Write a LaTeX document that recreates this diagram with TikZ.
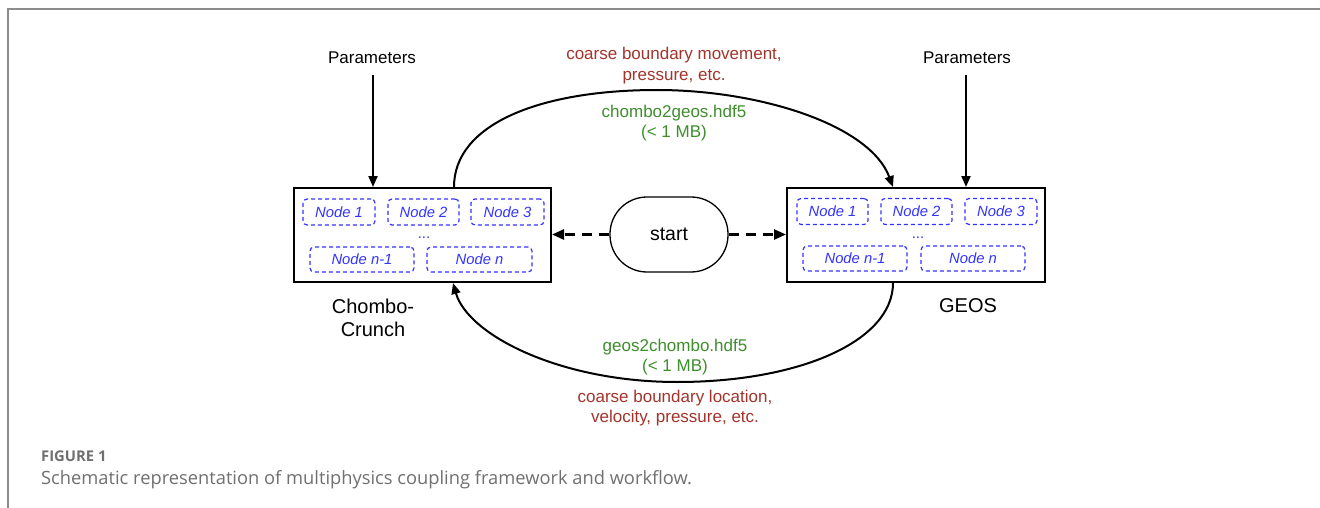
\documentclass[tikz,border=0pt]{standalone}
\usepackage{fontspec}
\setmainfont{Liberation Sans}
\newfontfamily\capfont{Open Sans}
\usetikzlibrary{arrows.meta,calc}
\definecolor{framegray}{HTML}{8C8C8C}
\definecolor{lblred}{HTML}{A3342C}
\definecolor{lblgreen}{HTML}{3E8E2C}
\definecolor{nodeblue}{HTML}{3333FF}
\definecolor{capgray}{HTML}{707070}
\tikzset{
  bigbox/.style={draw=black, line width=2pt, minimum width=257pt, minimum height=94pt, inner sep=0pt},
  cnode/.style={draw=nodeblue, dashed, dash pattern=on 4pt off 3pt, line width=1.2pt, rounded corners=4pt,
     text=nodeblue, font=\fontsize{14.8}{16}\selectfont\itshape, minimum height=26pt, inner sep=0pt},
  lbl/.style={font=\fontsize{17}{21}\selectfont, align=center, inner sep=0pt},
  flow/.style={line width=2pt, -{Triangle[length=11pt,width=9pt]}},
  dflow/.style={line width=2.5pt, dash pattern=on 10pt off 7pt, -{Triangle[length=12pt,width=10pt]}},
}
\begin{document}
\begin{tikzpicture}[x=1pt,y=-1pt]
\useasboundingbox (0,0) rectangle (1320,508);
\fill[white] (0,0) rectangle (1320,508);
% frame
\draw[framegray, line width=2pt] (8,508) -- (8,9) -- (1320,9);
% boxes
\node[bigbox] (L) at (422.5,235) {};
\node[bigbox, minimum width=258pt] (R) at (916,235) {};
% inner nodes left
\node[cnode, minimum width=72pt] (l1) at (339,212) {Node 1};
\node[cnode, minimum width=71pt] (l2) at (423.5,212) {Node 2};
\node[cnode, minimum width=73pt] (l3) at (507.5,212) {Node 3};
\node[cnode, minimum width=104pt, minimum height=25pt] (l4) at (362,259.5) {Node n-1};
\node[cnode, minimum width=105pt, minimum height=25pt] (l5) at (479.5,259.5) {Node n};
\node[text=nodeblue, font=\fontsize{14.8}{16}\selectfont, anchor=base, inner sep=0pt] (ld) at (424,238) {...};
% inner nodes right
\node[cnode, minimum width=71pt] (r1) at (832.5,211.5) {Node 1};
\node[cnode, minimum width=71pt] (r2) at (916.5,211.5) {Node 2};
\node[cnode, minimum width=72pt] (r3) at (1001,211.5) {Node 3};
\node[cnode, minimum width=104pt, minimum height=25pt] (r4) at (855,258.5) {Node n-1};
\node[cnode, minimum width=104pt, minimum height=25pt] (r5) at (973,258.5) {Node n};
\node[text=nodeblue, font=\fontsize{14.8}{16}\selectfont, anchor=base, inner sep=0pt] (rd) at (918,238) {...};
% start
\node[draw, line width=1.3pt, minimum width=118pt, minimum height=75pt, rounded corners=37pt,
      font=\fontsize{19.5}{22}\selectfont, inner sep=0pt] (S) at (669,234.5) {start};
\draw[dflow] (S.west) -- (S.west -| L.east);
\draw[dflow] (S.east) -- (S.east -| R.west);
% parameters
\node[font=\fontsize{17}{20}\selectfont, inner sep=0pt, outer sep=0pt] (PL) at (372,58) {Parameters};
\node[font=\fontsize{17}{20}\selectfont, inner sep=0pt, outer sep=0pt] (PR) at (967,58) {Parameters};
\coordinate (PLs) at (373,75);
\coordinate (PRs) at (966,75);
\draw[flow] (PLs) -- (PLs |- L.north);
\draw[flow] (PRs) -- (PRs |- R.north);
% box labels
\node[font=\fontsize{20}{23}\selectfont, align=center, inner sep=0pt] (LC) at (373,318) {Chombo-\\Crunch};
\node[font=\fontsize{20}{23}\selectfont, inner sep=0pt] (RC) at (968,306) {GEOS};
% curves
\coordinate (top) at (657,90);
\coordinate (bot) at (677,382);
\draw[line width=2pt] ([xshift=161pt]L.north west) .. controls +(0,-63) and (540,90) .. (top);
\draw[flow] (top) .. controls (760,90) and (870,125) .. ([xshift=107pt]R.north west);
\draw[line width=2pt] ([xshift=107pt]R.south west) .. controls +(0,58) and (800,382) .. (bot);
\draw[flow] (bot) .. controls (560,382) and (468,335) .. ([xshift=160pt]L.south west);
% labels
\node[lbl, text=lblred] (t1) at (674,65.5) {coarse boundary movement,\\pressure, etc.};
\node[lbl, text=lblgreen, font=\fontsize{17}{20}\selectfont] (t2) at (674,123) {chombo2geos.hdf5\\(< 1 MB)};
\node[lbl, text=lblgreen, font=\fontsize{17}{20}\selectfont] (b1) at (675,357) {geos2chombo.hdf5\\(< 1 MB)};
\node[lbl, text=lblred, font=\fontsize{17}{20}\selectfont] (b2) at (675,408) {coarse boundary location,\\velocity, pressure, etc.};
% caption
\node[anchor=west, inner sep=0pt, text=capgray, font=\capfont\bfseries\fontsize{14.8}{16}\selectfont] (f1) at (41,456) {FIGURE 1};
\node[anchor=west, inner sep=0pt, text=capgray, font=\capfont\fontsize{18.3}{20}\selectfont] (f2) at (41,480) {Schematic representation of multiphysics coupling framework and workflow.};
\end{tikzpicture}
\end{document}
